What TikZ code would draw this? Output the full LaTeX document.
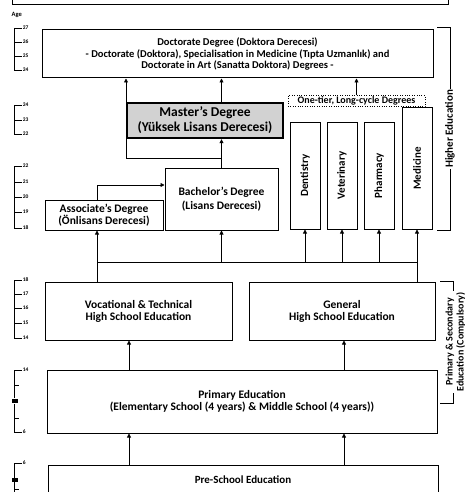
\documentclass[tikz,border=0pt]{standalone}
\usepackage{fontspec}
\setmainfont{Carlito}
\usepackage{graphicx}
\usetikzlibrary{arrows.meta, positioning, calc}

\begin{document}
\begin{tikzpicture}[
    x=1pt, y=-1pt,
    level/.style={rectangle, draw, line width=1pt, align=center, inner sep=1pt, font=\fontsize{11.5}{12}\selectfont\bfseries},
    master/.style={level, line width=2.4pt, fill=gray!35, font=\fontsize{13.5}{15}\selectfont\bfseries},
    column/.style={level, minimum width=30pt, font=\fontsize{11}{12}\selectfont\bfseries},
    tier/.style={rectangle, draw, dotted, inner sep=0pt, minimum width=137pt, minimum height=11pt, font=\fontsize{10}{11}\selectfont\bfseries},
    line/.style={draw, line width=0.8pt, -{Triangle[length=4pt, width=4pt]}},
    agelab/.style={right, inner sep=0.5pt, font=\fontsize{5.5}{6}\selectfont\bfseries},
    bracelab/.style={fill=white, align=center, inner sep=1pt, font=\fontsize{11}{12}\selectfont\bfseries}
]
\useasboundingbox (0,0) rectangle (465,492);

% Box cut off at the top
\draw[line width=1pt] (12,-4) -- (12,5) -- (448,5) -- (448,-4);

% Higher education
\node[level, minimum width=391pt, minimum height=48pt, font=\fontsize{10.5}{11.5}\selectfont\bfseries] (doct) at (237.5,54) {Doctorate Degree (Doktora Derecesi)\\ - Doctorate (Doktora), Specialisation in Medicine (Tıpta Uzmanlık) and\\ Doctorate in Art (Sanatta Doktora) Degrees -};
\node[master, minimum width=156pt, minimum height=35pt] (master) at (205,120.5) {Master's Degree\\ (Yüksek Lisans Derecesi)};
\node[tier] (tier) at (356.5,101) {One-tier, Long-cycle Degrees};
\node[column, minimum height=107pt] (dent) at (305,175.5) {\rotatebox{90}{Dentistry}};
\node[column, minimum height=107pt] (vet) at (342,175.5) {\rotatebox{90}{Veterinary}};
\node[column, minimum height=107pt] (pharm) at (379,175.5) {\rotatebox{90}{Pharmacy}};
\node[column, minimum height=121pt] (med) at (417,168.5) {\rotatebox{90}{Medicine}};
\node[level, minimum width=113pt, minimum height=62pt, font=\fontsize{11.5}{14}\selectfont\bfseries] (bach) at (221.5,199) {Bachelor's Degree\\ (Lisans Derecesi)};
\node[level, minimum width=118pt, minimum height=30pt, inner sep=0pt] (assoc) at (104,215) {Associate's Degree\\ (Önlisans Derecesi)};

% Primary & secondary education
\node[level, minimum width=187pt, minimum height=58pt] (voc) at (138.5,311) {Vocational \& Technical\\ High School Education};
\node[level, minimum width=186pt, minimum height=58pt] (gen) at (342,311) {General\\ High School Education};
\node[level, minimum width=390pt, minimum height=63pt] (prim) at (242,401.5) {Primary Education\\ (Elementary School (4 years) \& Middle School (4 years))};
\node[level, minimum width=390pt, minimum height=29pt, font=\fontsize{11}{12}\selectfont\bfseries] (pre) at (243,479.5) {Pre-School Education};

% Degree connections
\coordinate (bypass) at (126,158);
\coordinate (assocup) at (97,185);
\draw[line] (bach.north) -- (bach.north |- master.south);
\draw[line] (bach.north |- master.north) -- (bach.north |- doct.south);
\draw[line] (bach.north) |- (bypass) -- (bypass |- doct.south);
\draw[line] (tier.north) -- (tier.north |- doct.south);
\draw[line] (assocup |- assoc.north) -- (assocup) -- (assocup -| bach.west);

% Bus from high school
\coordinate (busL) at (97,262);
\coordinate (busR) at (417,262);
\draw[line width=0.8pt] (busL) -- (busR);
\draw[line width=0.8pt] (voc.north -| busL) -- (busL);
\draw[line width=0.8pt] (gen.north -| busR) -- (busR);
\draw[line] (busL) -- (busL |- assoc.south);
\foreach \n in {bach,dent,vet,pharm,med}
    \draw[line] (\n.south |- busL) -- (\n.south);

% Compulsory levels
\coordinate (colL) at (129,0);
\coordinate (colR) at (344,0);
\draw[line] (prim.north -| colL) -- (voc.south -| colL);
\draw[line] (prim.north -| colR) -- (gen.south -| colR);
\draw[line] (pre.north -| colL) -- (prim.south -| colL);
\draw[line] (pre.north -| colR) -- (prim.south -| colR);

% Age scale
\node[agelab, font=\fontsize{6.5}{7}\selectfont\bfseries] (agehead) at (11,15) {Age};
\foreach \top/\bot in {28/70,105/134,166/228,280/338,370/398,404/432,463/492}
    \draw[line width=0.7pt] (14,\top) -- (14,\bot);
\foreach \a/\y in {27/28,26/42,25/56,24/70,24/105,23/120,22/134,22/166,21/182,20/197,19/212,18/228,18/280,17/294,16/308,15/323,14/338,14/370,6/432,6/463}
    \draw[line width=0.7pt] (14,\y) -- (22,\y) node[agelab] (age\y) {\a};
\foreach \y in {385,418,489}
    \draw[line width=0.7pt] (14,\y) -- (19,\y);
\foreach \y in {401,480}
    \fill (12,\y-2) rectangle (18,\y+1.5);

% Side braces
\draw[line width=1pt] (437,28) -- (450,28) -- (450,230) -- (437,230);
\node[bracelab, rotate=90] (higher) at (450,129) {Higher Education};
\draw[line width=1pt] (440,281) -- (453,281) -- (453,403) -- (440,403);
\node[bracelab, rotate=90, font=\fontsize{10}{11}\selectfont\bfseries] (compulsory) at (455.5,342) {Primary \& Secondary\\ Education (Compulsory)};

\end{tikzpicture}
\end{document}
